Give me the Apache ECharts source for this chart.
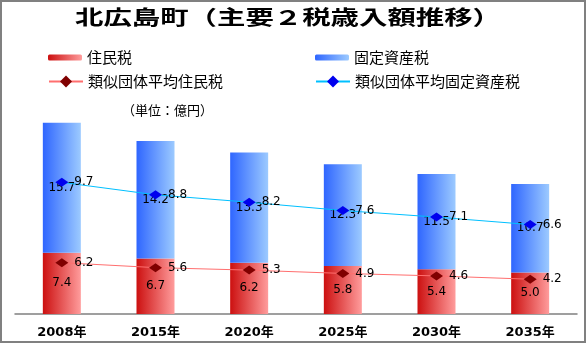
<!DOCTYPE html>
<html>
<head>
<meta charset="utf-8">
<script src="https://cdn.jsdelivr.net/npm/echarts@6/dist/echarts.min.js"></script>
<style>
  html, body { margin: 0; padding: 0; background: #fff; }
  #chart { width: 587px; height: 344px; }
</style>
</head>
<body>
<div id="chart"></div>
<script>
// Years on the horizontal axis
const categories = ['2008年', '2015年', '2020年', '2025年', '2030年', '2035年'];
// Town tax revenue (億円), stacked bars
const residentTax = [7.4, 6.7, 6.2, 5.8, 5.4, 5.0];
const propertyTax = [15.7, 14.2, 13.3, 12.3, 11.5, 10.7];
// Averages of comparable municipalities (億円), stacked lines
const avgResidentTax = [6.2, 5.6, 5.3, 4.9, 4.6, 4.2];
const avgPropertyTax = [9.7, 8.8, 8.2, 7.6, 7.1, 6.6];

const numFont = "'DejaVu Sans', 'Noto Sans CJK JP', sans-serif";
const jpFont = "'Noto Sans CJK JP', sans-serif";

const grad = (c0, c1) => new echarts.graphic.LinearGradient(0, 0, 1, 0, [
  { offset: 0, color: c0 }, { offset: 1, color: c1 }
]);
const fmt1 = p => Number(p.value).toFixed(1);

const chart = echarts.init(document.getElementById('chart'), null, { renderer: 'canvas' });

const legendBase = {
  orient: 'horizontal',
  itemWidth: 34,
  itemGap: 10,
  textStyle: { fontFamily: jpFont, fontSize: 15, color: '#000' },
  selectedMode: false,
  padding: 0
};

chart.setOption({
  backgroundColor: '#fff',
  animation: false,
  grid: { left: 15, right: 10, top: 107, bottom: 30 },
  legend: [
    Object.assign({}, legendBase, { data: ['住民税'], left: 48, top: 50, itemHeight: 6 }),
    Object.assign({}, legendBase, { data: ['固定資産税'], left: 315, top: 50, itemHeight: 6 }),
    Object.assign({}, legendBase, { data: ['類似団体平均住民税'], left: 48, top: 74, itemHeight: 15 }),
    Object.assign({}, legendBase, { data: ['類似団体平均固定資産税'], left: 315, top: 74, itemHeight: 15 })
  ],
  xAxis: {
    type: 'category',
    data: categories,
    axisLine: { show: true, lineStyle: { color: '#808080', width: 1.5 } },
    axisTick: { show: false },
    axisLabel: {
      margin: 12,
      fontFamily: numFont,
      fontSize: 13,
      fontWeight: 'bold',
      color: '#000'
    }
  },
  yAxis: {
    type: 'value',
    min: 0,
    max: 25,
    show: false,
    splitLine: { show: false }
  },
  series: [
    {
      name: '住民税',
      type: 'bar',
      stack: 'tax',
      barWidth: 38,
      data: residentTax,
      itemStyle: { color: grad('#cc1010', '#ff9c9c') },
      label: {
        show: true, position: 'inside', formatter: fmt1,
        fontFamily: numFont, fontSize: 12, color: '#000'
      },
      z: 2
    },
    {
      name: '固定資産税',
      type: 'bar',
      stack: 'tax',
      barWidth: 38,
      data: propertyTax,
      itemStyle: { color: grad('#2f66ff', '#9ccaff') },
      label: {
        show: true, position: 'inside', formatter: fmt1,
        fontFamily: numFont, fontSize: 12, color: '#000'
      },
      z: 2
    },
    {
      name: '類似団体平均住民税',
      type: 'line',
      stack: 'avg',
      data: avgResidentTax,
      symbol: 'diamond',
      symbolSize: [13, 9],
      lineStyle: { color: '#ff6f6f', width: 1 },
      itemStyle: { color: '#800000' },
      label: {
        show: true, position: 'right', distance: 6, formatter: fmt1,
        fontFamily: numFont, fontSize: 12, color: '#000'
      },
      z: 5
    },
    {
      name: '類似団体平均固定資産税',
      type: 'line',
      stack: 'avg',
      data: avgPropertyTax,
      symbol: 'diamond',
      symbolSize: [13, 9],
      lineStyle: { color: '#00c0ff', width: 1 },
      itemStyle: { color: '#0000ee' },
      label: {
        show: true, position: 'right', distance: 6, formatter: fmt1,
        fontFamily: numFont, fontSize: 12, color: '#000'
      },
      z: 5
    }
  ],
  graphic: [
    {
      type: 'rect',
      shape: { x: 1, y: 1, width: 584, height: 341 },
      style: { fill: 'none', stroke: '#808080', lineWidth: 2 },
      silent: true,
      z: 100
    },
    {
      type: 'text',
      x: 75,
      y: 17,
      scaleX: 1.42,
      style: {
        text: '北広島町（主要２税歳入額推移）',
        font: "bold 20px 'Noto Sans CJK JP', sans-serif",
        fill: '#000',
        textAlign: 'left',
        textVerticalAlign: 'middle'
      }
    },
    {
      type: 'text',
      x: 122,
      y: 110,
      style: {
        text: '（単位：億円）',
        font: "13px 'Noto Sans CJK JP', sans-serif",
        fill: '#000',
        textAlign: 'left',
        textVerticalAlign: 'middle'
      }
    }
  ]
});
</script>
</body>
</html>
